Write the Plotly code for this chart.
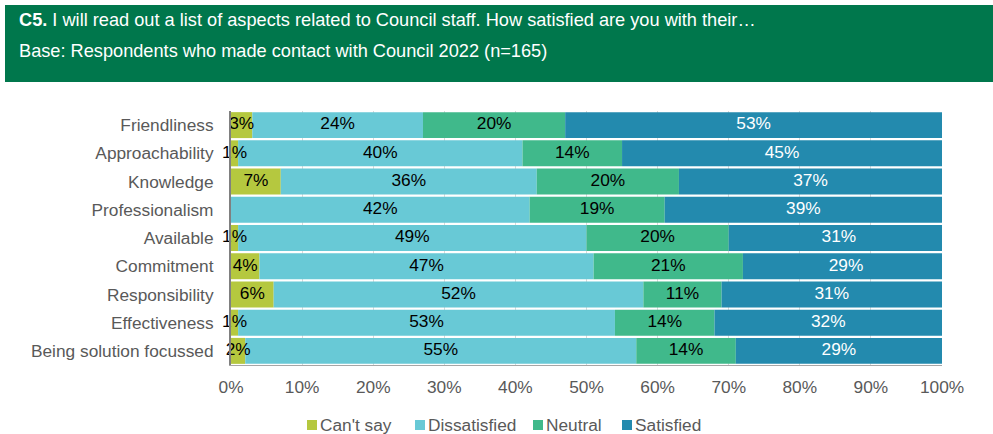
import plotly.graph_objects as go

categories = ["Friendliness", "Approachability", "Knowledge", "Professionalism", "Available",
              "Commitment", "Responsibility", "Effectiveness", "Being solution focussed"]
cant_say = [3, 1, 7, 0, 1, 4, 6, 1, 2]
dissatisfied = [24, 40, 36, 42, 49, 47, 52, 53, 55]
neutral = [20, 14, 20, 19, 20, 21, 11, 14, 14]
satisfied = [53, 45, 37, 39, 31, 29, 31, 32, 29]
tick_values = list(range(0, 101, 10))
tick_labels = [f"{v}%" for v in tick_values]

series = [
    ("Can't say", cant_say, "#B5C83F", "black"),
    ("Dissatisfied", dissatisfied, "#68C9D6", "black"),
    ("Neutral", neutral, "#40B98B", "black"),
    ("Satisfied", satisfied, "#238AAE", "white"),
]

FONT = "Liberation Sans, Arial, sans-serif"
FS = 17.3
fig = go.Figure()
base = [0] * len(categories)
label_traces = []
for name, vals, color, tcol in series:
    fig.add_trace(go.Bar(
        name=name, y=categories, x=vals, base=base, orientation="h",
        marker=dict(color=color, line=dict(width=0)), hoverinfo="x+name",
    ))
    xs, ys, ts = [], [], []
    for c, b, v in zip(categories, base, vals):
        if v > 0:
            xs.append(b + v / 2)
            ys.append(c)
            ts.append(f"{v}%")
    label_traces.append(go.Scatter(
        x=xs, y=ys, text=ts, mode="text", showlegend=False, hoverinfo="skip",
        textfont=dict(color=tcol, size=FS, family=FONT), cliponaxis=False,
    ))
    base = [b + v for b, v in zip(base, vals)]
for t in label_traces:
    fig.add_trace(t)

W, H = 993, 434
L, R, T, B = 231, 51, 111, 69
pw, ph = W - L - R, H - T - B


def px(x):
    return (x - L) / pw


def py(y):
    return (H - B - y) / ph


# header band
fig.add_shape(type="rect", xref="paper", yref="paper",
              x0=px(5), x1=px(993), y0=py(82), y1=py(5),
              fillcolor="#00774C", line=dict(width=0), layer="below")
fig.add_annotation(xref="paper", yref="paper", x=px(17), y=py(20),
                   xanchor="left", yanchor="middle", showarrow=False,
                   text="<b>C5.</b> I will read out a list of aspects related to Council staff. How satisfied are you with their…",
                   font=dict(color="white", size=18.2, family=FONT))
fig.add_annotation(xref="paper", yref="paper", x=px(17), y=py(51),
                   xanchor="left", yanchor="middle", showarrow=False,
                   text="Base: Respondents who made contact with Council 2022 (n=165)",
                   font=dict(color="white", size=18.2, family=FONT))

# legend (marker squares + text)
legend_x = [307, 415, 533, 622]
for (name, vals, color, tcol), lx in zip(series, legend_x):
    fig.add_shape(type="rect", xref="paper", yref="paper",
                  x0=px(lx), x1=px(lx + 10), y0=py(430), y1=py(420),
                  fillcolor=color, line=dict(width=0))
    fig.add_annotation(xref="paper", yref="paper", x=px(lx + 11), y=py(425),
                       xanchor="left", yanchor="middle", showarrow=False,
                       text=name, font=dict(color="#595959", size=FS, family=FONT))

fig.update_layout(
    width=W, height=H, barmode="overlay", bargap=0.08, showlegend=False,
    margin=dict(l=L, r=R, t=T, b=B, pad=0),
    paper_bgcolor="white", plot_bgcolor="white",
    font=dict(family=FONT, size=FS, color="#595959"),
    xaxis=dict(range=[0, 100], tickvals=tick_values, ticktext=tick_labels,
               showgrid=True, gridcolor="#D9D9D9", gridwidth=1,
               zeroline=False, showline=True, linecolor="#A6A6A6", linewidth=1,
               ticks="", ticklabelstandoff=6, tickfont=dict(size=FS, color="#595959")),
    yaxis=dict(categoryorder="array", categoryarray=categories, autorange="reversed",
               showline=True, linecolor="#808080", linewidth=2, ticks="",
               ticklabelstandoff=12, tickfont=dict(size=FS, color="#595959")),
)

fig.write_html("out.html", config={"displayModeBar": False},
               post_script="document.body.style.margin='0';")
